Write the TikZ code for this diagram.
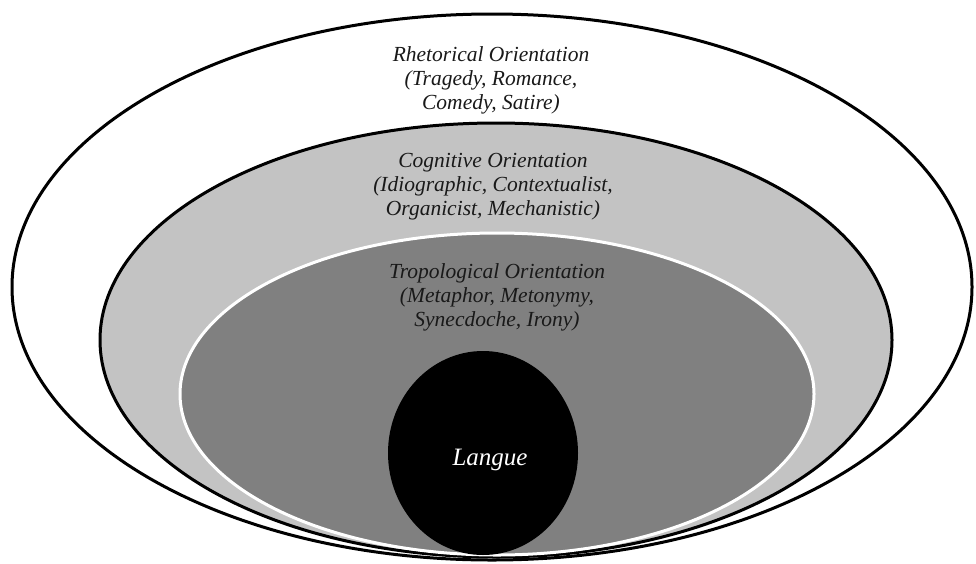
\documentclass[tikz,border=0pt]{standalone}
\usepackage{fontspec}
\setmainfont{Liberation Serif}
\usetikzlibrary{shapes.geometric}
\definecolor{lightg}{RGB}{195,195,195}
\definecolor{darkg}{RGB}{128,128,128}
\tikzset{
  ring/.style={ellipse, inner sep=0pt, line width=3pt},
  lbl/.style={align=center, font=\itshape\fontsize{21.5}{24}\selectfont, text=black!90}
}
\begin{document}
\begin{tikzpicture}[x=1pt,y=-1pt]
\useasboundingbox (0,0) rectangle (976,563);
\node[ring, draw=black, fill=white, minimum width=960pt, minimum height=546pt] (rhet) at (492,287) {};
\node[ring, draw=black, fill=lightg, minimum width=792pt, minimum height=434pt] (cog) at (496,340) {};
\node[ring, draw=white, fill=darkg, minimum width=634pt, minimum height=322pt] (trop) at (497,394) {};
\node[ellipse, inner sep=0pt, fill=black, minimum width=190pt, minimum height=204pt] (langue) at (483,453) {};
\node[lbl] (trhet) at (491,80) {Rhetorical Orientation\\(Tragedy, Romance,\\Comedy, Satire)};
\node[lbl] (tcog) at (493,187) {Cognitive Orientation\\(Idiographic, Contextualist,\\Organicist, Mechanistic)};
\node[lbl] (ttrop) at (497,297) {Tropological Orientation\\(Metaphor, Metonymy,\\Synecdoche, Irony)};
\node[font=\itshape\fontsize{25}{28}\selectfont, text=white] (tl) at (490,460) {Langue};
\end{tikzpicture}
\end{document}
